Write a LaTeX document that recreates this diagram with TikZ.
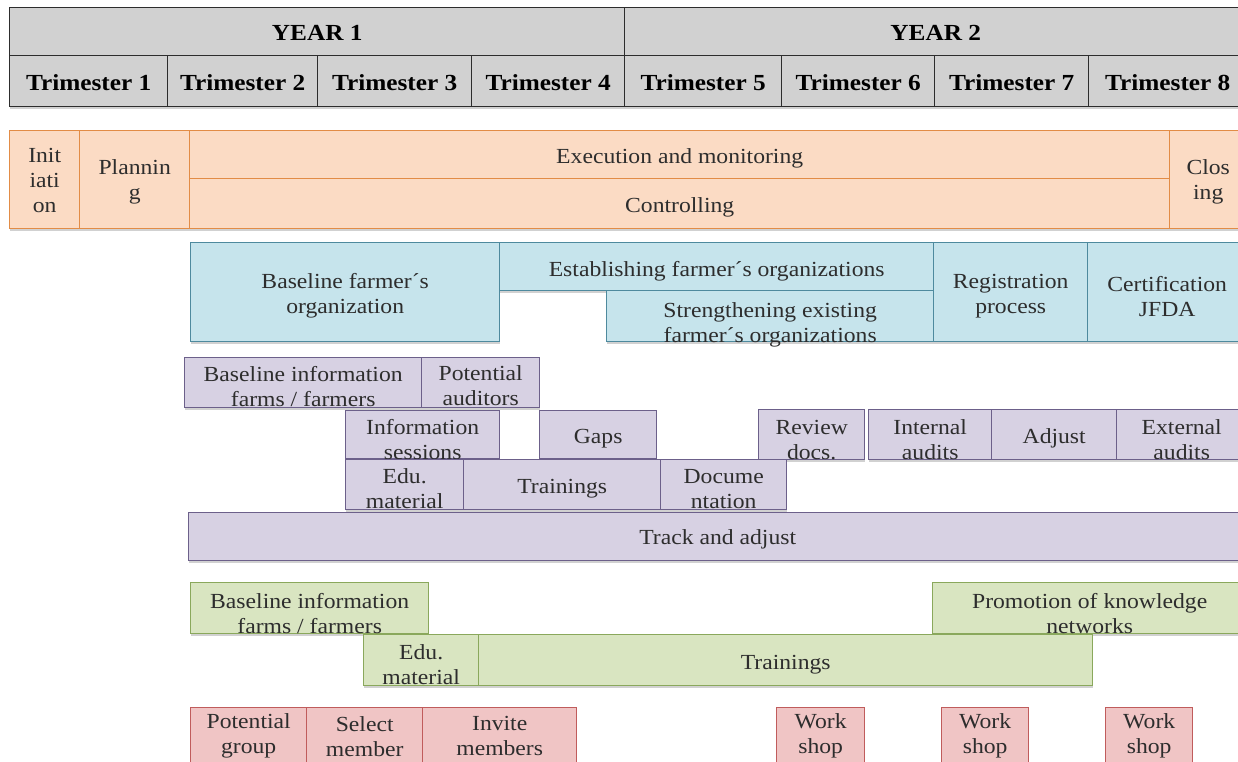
\documentclass[tikz,border=0pt]{standalone}
\usepackage{fontspec}
\setmainfont{Liberation Serif}[FakeStretch=1.1]
\usetikzlibrary{shadows}

\definecolor{hdrfill}{RGB}{209,209,209}
\definecolor{hdrline}{RGB}{45,45,45}
\definecolor{orfill}{RGB}{251,219,196}
\definecolor{orline}{RGB}{226,140,70}
\definecolor{blfill}{RGB}{198,228,236}
\definecolor{blline}{RGB}{78,138,158}
\definecolor{pufill}{RGB}{215,209,227}
\definecolor{puline}{RGB}{108,96,138}
\definecolor{grfill}{RGB}{217,229,193}
\definecolor{grline}{RGB}{138,168,92}
\definecolor{rdfill}{RGB}{240,197,197}
\definecolor{rdline}{RGB}{192,92,92}
\definecolor{txtc}{RGB}{45,45,45}

\tikzset{
  cell/.style={draw, line width=1.4pt, inner sep=0pt, anchor=north west,
    drop shadow={shadow xshift=0pt, shadow yshift=-2.5pt, opacity=0.18, fill=black}},
  lbl/.style={inner sep=0pt, align=center, text=txtc,
    font=\fontsize{21.5}{25}\selectfont},
  hlbl/.style={inner sep=0pt, align=center, text=black,
    font=\bfseries\fontsize{23}{27}\selectfont},
  hdr/.style={cell, fill=hdrfill, draw=hdrline},
  phase/.style={cell, fill=orfill, draw=orline},
  org/.style={cell, fill=blfill, draw=blline},
  cert/.style={cell, fill=pufill, draw=puline},
  know/.style={cell, fill=grfill, draw=grline},
  meet/.style={cell, fill=rdfill, draw=rdline}
}

% box: style, name, x1, y1, x2, y2, text drop, text
\newcommand\gbox[8]{%
  \node[#1, minimum width={#5pt-#3pt}, minimum height={#6pt-#4pt}] (#2) at (#3,#4) {};
  \node[lbl] (#2-t) at ([yshift={-(#7pt)}]#2.center) {#8};}
% header cell: name, x1, y1, x2, y2, text
\newcommand\hcell[6]{%
  \node[hdr, minimum width={#4pt-#2pt}, minimum height={#5pt-#3pt}] (#1) at (#2,#3) {};
  \node[hlbl] (#1-t) at ([yshift=-1pt]#1.center) {#6};}

\begin{document}
\begin{tikzpicture}[x=1pt, y=-1pt]
\useasboundingbox (0,0) rectangle (1238,761);
\clip (0,0) rectangle (1238,761);
\fill[white] (0,0) rectangle (1238,761);

% calendar header
\hcell{yr1}{9}{7}{624}{55}{YEAR 1}
\hcell{yr2}{624}{7}{1246}{55}{YEAR 2}
\hcell{t1}{9}{55}{167}{106}{Trimester 1}
\hcell{t2}{167}{55}{317}{106}{Trimester 2}
\hcell{t3}{317}{55}{471}{106}{Trimester 3}
\hcell{t4}{471}{55}{624}{106}{Trimester 4}
\hcell{t5}{624}{55}{781}{106}{Trimester 5}
\hcell{t6}{781}{55}{934}{106}{Trimester 6}
\hcell{t7}{934}{55}{1088}{106}{Trimester 7}
\hcell{t8}{1088}{55}{1246}{106}{Trimester 8}

% project phases
\gbox{phase}{init}{9}{130}{79}{228}{1}{Init\\iati\\on}
\gbox{phase}{plan}{79}{130}{189}{228}{2}{Plannin\\g}
\gbox{phase}{exec}{189}{130}{1169}{178}{4}{Execution and monitoring}
\gbox{phase}{ctrl}{189}{178}{1169}{228}{4}{Controlling}
\gbox{phase}{clos}{1169}{130}{1246}{228}{2}{Clos\\ing}

% farmer organizations
\gbox{org}{bbase}{190}{242}{499}{341}{4}{Baseline farmer´s\\organization}
\gbox{org}{best}{499}{242}{933}{290}{5}{Establishing farmer´s organizations}
\gbox{org}{bstr}{606}{290}{933}{341}{9}{Strengthening existing\\farmer´s organizations}
\gbox{org}{breg}{933}{242}{1087}{341}{4}{Registration\\process}
\gbox{org}{bcert}{1087}{242}{1246}{341}{4}{Certification\\JFDA}

% certification track
\gbox{cert}{pbase}{184}{357}{421}{407}{4}{Baseline information\\farms / farmers}
\gbox{cert}{paud}{421}{357}{539}{407}{3}{Potential\\auditors}
\gbox{cert}{pinfo}{345}{410}{499}{458}{5}{Information\\sessions}
\gbox{cert}{pgaps}{539}{410}{656}{458}{4}{Gaps}
\gbox{cert}{preview}{758}{409}{864}{459}{5}{Review\\docs.}
\gbox{cert}{pint}{868}{409}{991}{459}{5}{Internal\\audits}
\gbox{cert}{padj}{991}{409}{1116}{459}{4}{Adjust}
\gbox{cert}{pext}{1116}{409}{1246}{459}{5}{External\\audits}
\gbox{cert}{pedu}{345}{459}{463}{509}{4}{Edu.\\material}
\gbox{cert}{ptrain}{463}{459}{660}{509}{4}{Trainings}
\gbox{cert}{pdoc}{660}{459}{786}{509}{4}{Docume\\ntation}
\gbox{cert}{ptrack}{188}{512}{1246}{560}{3}{Track and adjust}

% knowledge transfer
\gbox{know}{gbase}{190}{582}{428}{633}{5}{Baseline information\\farms / farmers}
\gbox{know}{gprom}{932}{582}{1246}{633}{5}{Promotion of knowledge\\networks}
\gbox{know}{gedu}{363}{634}{478}{685}{4}{Edu.\\material}
\gbox{know}{gtrain}{478}{634}{1092}{685}{4}{Trainings}

% meetings
\gbox{meet}{rpot}{190}{707}{306}{768}{-2}{Potential\\group}
\gbox{meet}{rsel}{306}{707}{422}{768}{-2}{Select\\member}
\gbox{meet}{rinv}{422}{707}{576}{768}{-2}{Invite\\members}
\gbox{meet}{ws1}{776}{707}{864}{768}{-2}{Work\\shop}
\gbox{meet}{ws2}{941}{707}{1028}{768}{-2}{Work\\shop}
\gbox{meet}{ws3}{1105}{707}{1192}{768}{-2}{Work\\shop}
\end{tikzpicture}
\end{document}
